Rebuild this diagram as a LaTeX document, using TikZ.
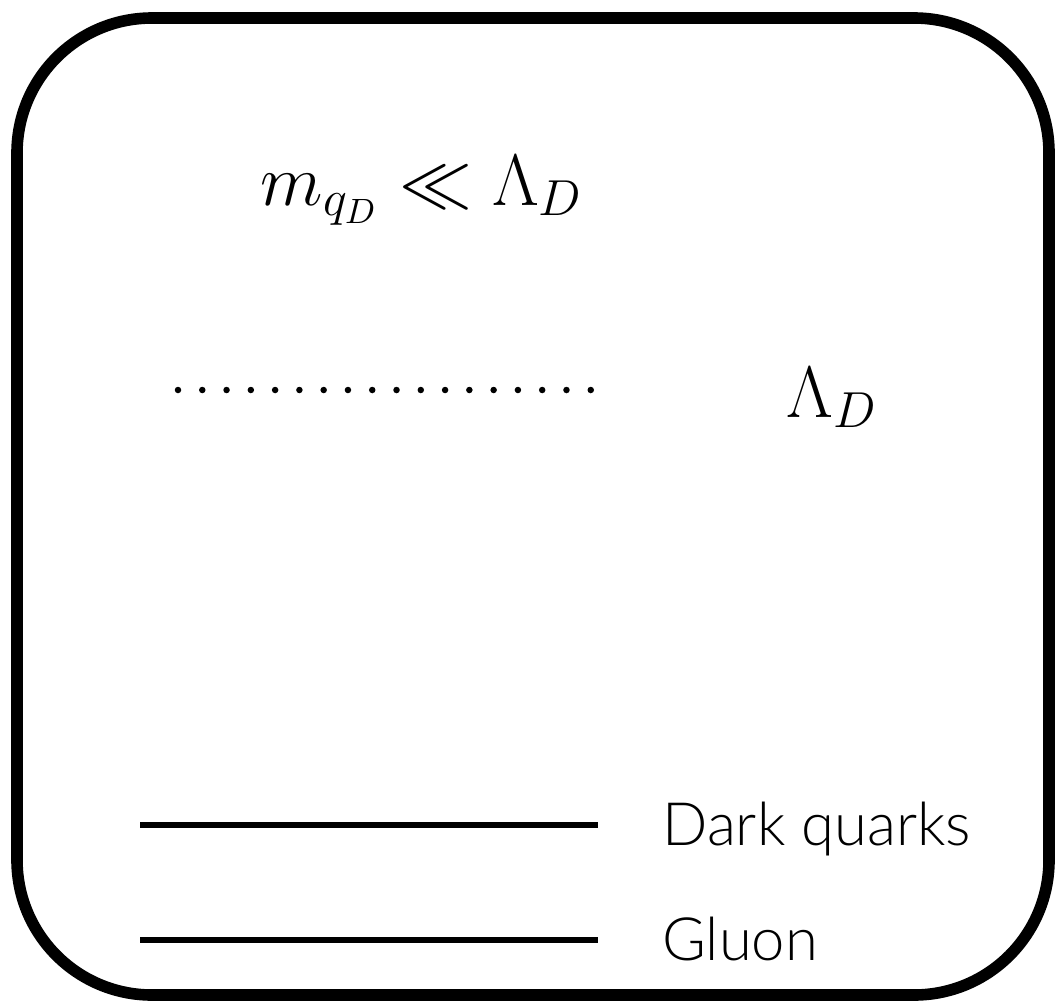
\documentclass[tikz,border=0pt]{standalone}
\usepackage{amsmath}
\usepackage{amssymb}
\usepackage{fontspec}
\newfontfamily\legendfont{Lato Light}
\usetikzlibrary{positioning}

\begin{document}
\begin{tikzpicture}[
    mathlbl/.style={font=\fontsize{20.5}{24}\selectfont, anchor=base},
    legendlbl/.style={font=\legendfont\fontsize{17}{20}\selectfont, anchor=base west},
    legendline/.style={line width=1.5pt}]
  \useasboundingbox (0,0) rectangle (10.57,-10.07);
  % frame
  \draw[line width=3.3pt, rounded corners=1.35cm] (0.17,-0.18) rectangle (10.49,-9.95);

  \node[mathlbl] (cond) at (4.22,-2.05) {$m_{q_D} \ll \Lambda_D$};

  % confinement scale
  \coordinate (dotL) at (1.78,-3.90);
  \coordinate (dotR) at (6.15,-3.90);
  \draw[line width=0.065cm, line cap=round, dash pattern=on 0pt off 0.2428cm] (dotL) -- (dotR);
  \node[mathlbl, font=\fontsize{22}{26}\selectfont] (scale) at (8.32,-4.17) {$\Lambda_D$};

  % legend
  \coordinate (qL) at (1.40,-8.25);
  \coordinate (qR) at (5.98,-8.25);
  \coordinate (gL) at (1.40,-9.40);
  \coordinate (gR) at (5.98,-9.40);
  \draw[legendline] (qL) -- (qR);
  \draw[legendline] (gL) -- (gR);
  \node[legendlbl] (quarks) at (6.50,-8.45) {Dark quarks};
  \node[legendlbl] (gluon) at (6.50,-9.60) {Gluon};
\end{tikzpicture}
\end{document}
